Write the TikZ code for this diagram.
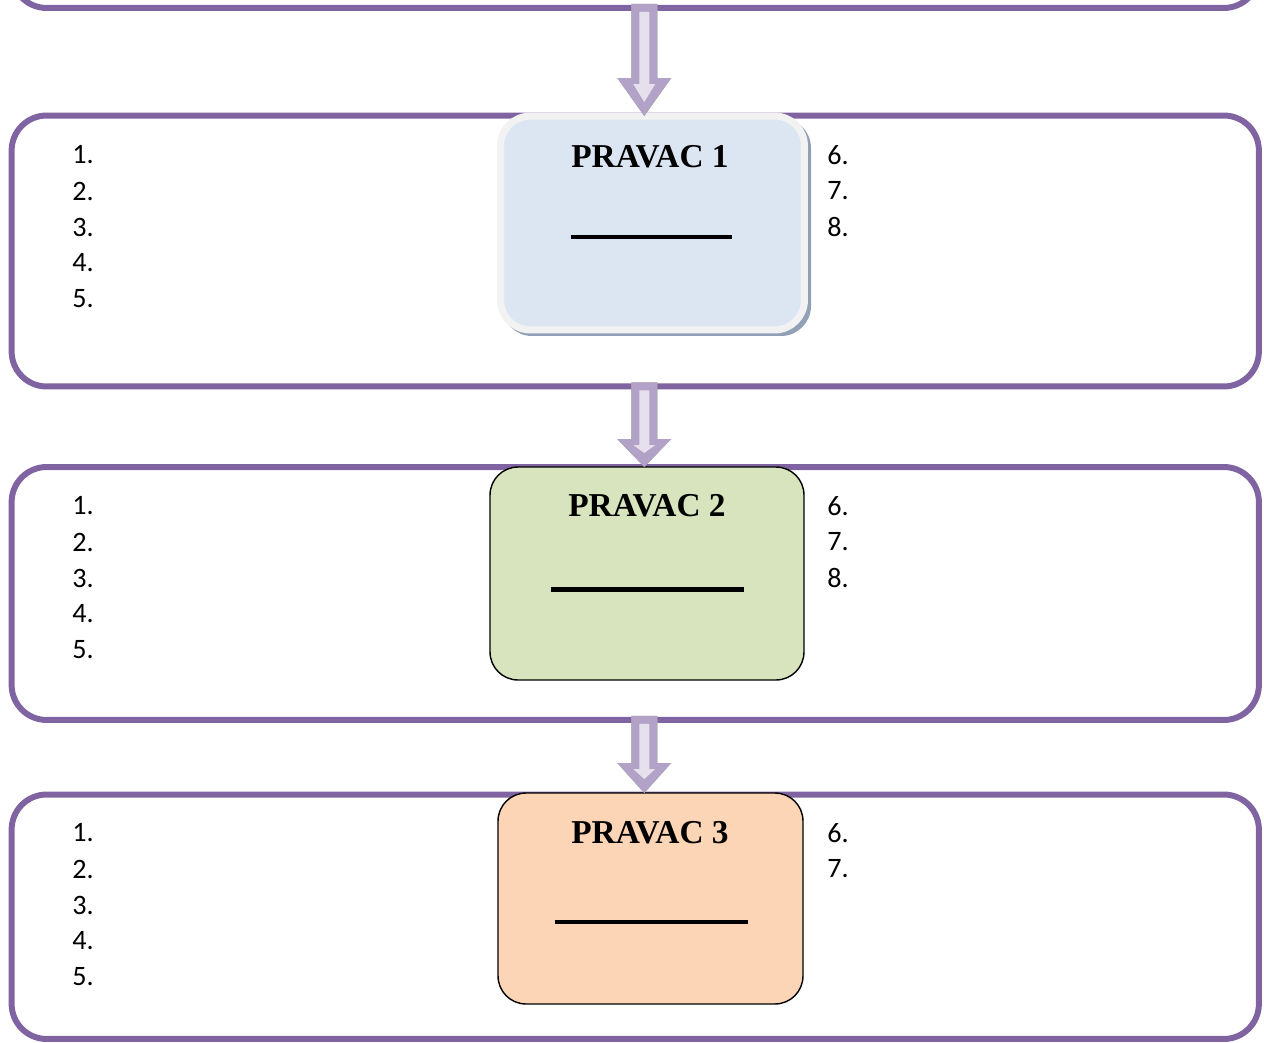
\documentclass[tikz,border=0pt]{standalone}
\usepackage{fontspec}
\setmainfont{Liberation Serif}
\newfontfamily\listfont{Carlito}
\usetikzlibrary{calc}

\definecolor{rowpurple}{RGB}{128,100,162}
\definecolor{arrowfill}{RGB}{179,162,199}
\definecolor{arrowlight}{RGB}{230,224,236}
\definecolor{arrowshadow}{RGB}{152,168,126}
\definecolor{bluefill}{RGB}{220,230,242}
\definecolor{blueedge}{RGB}{242,242,242}
\definecolor{blueshadow}{RGB}{146,160,182}
\definecolor{greenfill}{RGB}{215,228,189}
\definecolor{peachfill}{RGB}{251,213,181}

\begin{document}
\begin{tikzpicture}[
    x=0.02cm, y=-0.02cm,
    rowbox/.style={draw=rowpurple, line width=3.4pt, rounded corners=0.7cm,
        outer sep=0pt, minimum width=24.95cm},
    pravac/.style={rounded corners=0.56cm, outer sep=0pt},
    pravac_edge/.style={pravac, draw=black, line width=0.8pt},
    title/.style={font=\fontsize{19}{21}\selectfont\bfseries, inner sep=0pt},
    num/.style={font=\listfont\fontsize{16}{18}\selectfont, anchor=west, inner sep=0pt},
    blank/.style={line width=2.4pt}
]
    \useasboundingbox (0,0) rectangle (1264,1043);
    % Okviri redova
    \node[rowbox, minimum height=6.16cm] (row0) at (635.25,-146) {};
    \node[rowbox, minimum height=5.42cm] (row1) at (635.25,251) {};
    \node[rowbox, minimum height=5.06cm] (row2) at (635.25,593.5) {};
    \node[rowbox, minimum height=4.89cm] (row3) at (635.25,916.75) {};
    % Pravci
    \fill[blueshadow, rounded corners=0.6cm] (502,118) rectangle (811,336);
    \node[pravac, fill=bluefill, draw=blueedge, line width=4pt, rounded corners=0.6cm,
        minimum width=6.08cm, minimum height=4.28cm] (p1) at (652.5,223) {};
    \node[pravac_edge, fill=greenfill, minimum width=6.28cm, minimum height=4.26cm] (p2) at (647,573.5) {};
    \node[pravac_edge, fill=peachfill, minimum width=6.1cm, minimum height=4.22cm] (p3) at (650.5,898.5) {};
    \node[title] (t1) at (650,157) {PRAVAC 1};
    \node[title] (t2) at (647,505.5) {PRAVAC 2};
    \node[title] (t3) at (650,833) {PRAVAC 3};
    \draw[blank] (571,237) -- (732,237);
    \draw[blank] (551,589.5) -- (744,589.5);
    \draw[blank] (555,922) -- (748,922);
    % Brojevi
    \foreach \r/\y/\last in {1/155/8, 2/506/8, 3/833/7} {
        \foreach \i in {1,...,5}
            \node[num] (n\r-\i) at (72,\y+36*\i-36) {\i.};
        \foreach \i in {6,...,\last}
            \node[num] (n\r-\i) at (827,\y+36*\i-216) {\i.};
    }
    % Strelice
    \foreach \from/\to/\h in {row0/p1/38, row1/p2/28, row2/p3/30} {
        \coordinate (s) at ($(\from.south)+(9,-4)$);
        \coordinate (t) at (s |- \to.north);
        \fill[arrowshadow, shift={(5,5)}] ($(s)+(-13,0)$) -- ($(t)+(-13,-\h)$) -- ($(t)+(-27,-\h)$)
            -- (t) -- ($(t)+(27,-\h)$) -- ($(t)+(13,-\h)$) -- ($(s)+(13,0)$) -- cycle;
        \fill[arrowfill] ($(s)+(-13,0)$) -- ($(t)+(-13,-\h)$) -- ($(t)+(-27,-\h)$)
            -- (t) -- ($(t)+(27,-\h)$) -- ($(t)+(13,-\h)$) -- ($(s)+(13,0)$) -- cycle;
        \fill[arrowlight] ($(s)+(-5,8)$) -- ($(t)+(-5,-\h+6)$) -- ($(t)+(-11,-\h+6)$)
            -- ($(t)+(0,-14)$) -- ($(t)+(11,-\h+6)$) -- ($(t)+(5,-\h+6)$) -- ($(s)+(5,8)$) -- cycle;
    }
\end{tikzpicture}
\end{document}
